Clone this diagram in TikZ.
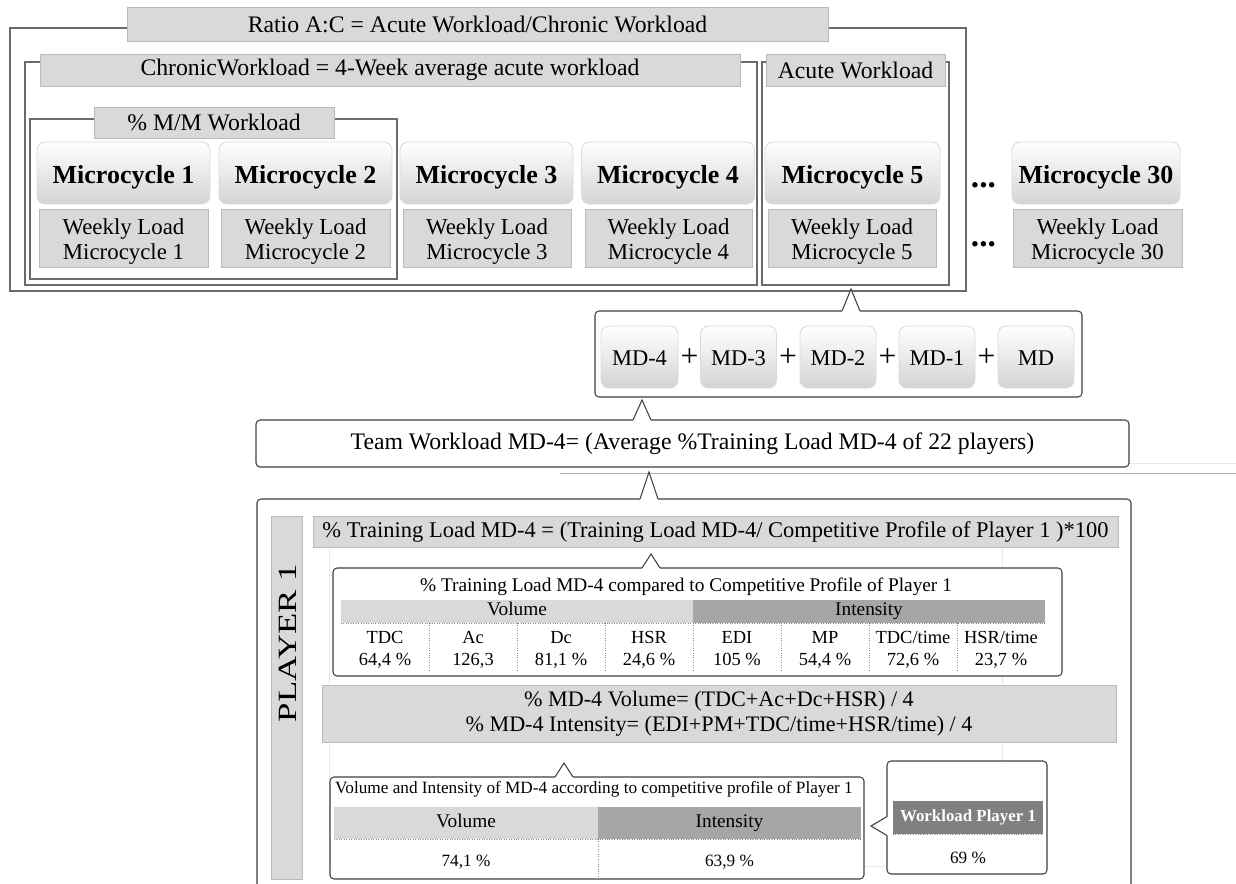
\documentclass[tikz,border=0pt]{standalone}
\usepackage{fontspec}
\setmainfont{Liberation Serif}
\usepackage{tikz}
\newcommand{\bigsize}{\fontsize{13.5}{14.2}\selectfont}
\newcommand{\formsize}{\fontsize{12.8}{14.2}\selectfont}
\newcommand{\mcsize}{\fontsize{14.8}{17}\selectfont\bfseries}
\newcommand{\wlsize}{\fontsize{13}{14.2}\selectfont}
\newcommand{\mdsize}{\fontsize{12.8}{15}\selectfont}
\newcommand{\titlesize}{\fontsize{11}{13}\selectfont}
\newcommand{\tabsize}{\fontsize{10.5}{12.4}\selectfont}
\newcommand{\smallsize}{\fontsize{9.8}{12}\selectfont}
\newcommand{\notchup}[3]{%
	\fill[white] (#1-9,#2+1) -- (#1-9,#2) -- (#1,#3) -- (#1+9,#2) -- (#1+9,#2+1) -- cycle;
	\draw[notch] (#1-9,#2) -- (#1,#3) -- (#1+9,#2);}
\newcommand{\notchleft}[3]{%
	\fill[white] (#1+1,#2-9.5) -- (#1,#2-9.5) -- (#3,#2) -- (#1,#2+9.5) -- (#1+1,#2+9.5) -- cycle;
	\draw[notch] (#1,#2-9.5) -- (#3,#2) -- (#1,#2+9.5);}
\tikzset{
	wh/.style 2 args={minimum width=#1*0.02cm,minimum height=#2*0.02cm,inner sep=0pt},
	frame/.style={draw=black!58,line width=0.7pt},
	graybox/.style={fill=black!15,draw=black!27,line width=0.5pt,font=\bigsize},
	loadbox/.style={graybox,align=center,font=\wlsize,text height=24.5pt,text depth=0pt},
	mcbutton/.style={rounded corners=0.16cm,top color=white,bottom color=black!17,draw=black!14,line width=0.5pt,
		font=\mcsize,text height=15.3pt,text depth=3.3pt},
	mdbutton/.style={mcbutton,font=\mdsize,text height=12.4pt,text depth=2.8pt},
	callout/.style={draw=black!75,line width=0.6pt,rounded corners=0.08cm,fill=white},
	notch/.style={draw=black!75,line width=0.6pt},
	lighthead/.style={fill=black!15,inner sep=0pt,text height=0.7em,text depth=0.2em},
	darkhead/.style={fill=black!35,inner sep=0pt,text height=0.7em,text depth=0.2em},
	cell/.style={align=center,font=\tabsize,execute at begin node=\strut,execute at end node=\strut},
	sep/.style={draw=black!45,densely dotted,line width=0.4pt},
	ghost/.style={draw=black!9,line width=0.5pt}
}
\begin{document}
\begin{tikzpicture}[x=0.02cm,y=-0.02cm]
	\useasboundingbox (0,0) rectangle (1236,883);
	\draw[frame] (10,28) rectangle (966,291);
	\draw[frame] (25,62) rectangle (757,285);
	\draw[frame] (762,62) rectangle (949,285);
	\draw[frame] (30,119) rectangle (397,279);
	\node[graybox,wh={701}{34}] (ratio) at (477.5,24) {Ratio A:C = Acute Workload/Chronic Workload};
	\node[graybox,wh={700}{32}] (chronic) at (390,70) {ChronicWorkload = 4-Week average acute workload};
	\node[graybox,wh={179}{32}] (acute) at (855.5,70) {Acute Workload};
	\node[graybox,wh={240}{31}] (mm) at (214,122.5) {\% M/M Workload};
	\node[mcbutton,wh={173}{62}] (mc1) at (123.5,173) {Microcycle 1};
	\node[mcbutton,wh={173}{62}] (mc2) at (305.5,173) {Microcycle 2};
	\node[mcbutton,wh={173}{62}] (mc3) at (486.5,173) {Microcycle 3};
	\node[mcbutton,wh={173}{62}] (mc4) at (668,173) {Microcycle 4};
	\node[mcbutton,wh={175}{62}] (mc5) at (852.5,173) {Microcycle 5};
	\node[mcbutton,wh={168}{62}] (mc30) at (1096,173) {Microcycle 30};
	\node[loadbox,wh={169}{58}] (wl1) at (123.5,238) {Weekly Load\\Microcycle 1};
	\node[loadbox,wh={169}{58}] (wl2) at (305.5,238) {Weekly Load\\Microcycle 2};
	\node[loadbox,wh={168}{58}] (wl3) at (487,238) {Weekly Load\\Microcycle 3};
	\node[loadbox,wh={167}{58}] (wl4) at (668.5,238) {Weekly Load\\Microcycle 4};
	\node[loadbox,wh={168}{58}] (wl5) at (852,238) {Weekly Load\\Microcycle 5};
	\node[loadbox,wh={169}{58}] (wl30) at (1097.5,238) {Weekly Load\\Microcycle 30};
	\node[font=\fontsize{19}{20}\selectfont\bfseries] (dots1) at (983.5,185) {...};
	\node[font=\fontsize{19}{20}\selectfont\bfseries] (dots2) at (983.5,244) {...};

	\node[callout,wh={487}{86}] (md) at (838.5,354) {};
	\notchup{851}{311}{289}
	\node[mdbutton,wh={77}{62}] (md4) at (639.5,357) {MD-4};
	\node[mdbutton,wh={76}{62}] (md3) at (738.5,357) {MD-3};
	\node[mdbutton,wh={76}{62}] (md2) at (838,357) {MD-2};
	\node[mdbutton,wh={76}{62}] (md1) at (937,357) {MD-1};
	\node[mdbutton,wh={76}{62}] (md0) at (1036,357) {MD};
	\node[font=\fontsize{18}{20}\selectfont] (p1) at (689.5,358) {+};
	\node[font=\fontsize{18}{20}\selectfont] (p2) at (788,358) {+};
	\node[font=\fontsize{18}{20}\selectfont] (p3) at (887.5,358) {+};
	\node[font=\fontsize{18}{20}\selectfont] (p4) at (986.5,358) {+};

	\draw[ghost] (1129,463) -- (1236,463);
	\draw[draw=black!30,line width=0.5pt] (560,473) -- (1236,473);
	\node[callout,wh={873}{47},font=\bigsize] (team) at (692.5,443.5) {Team Workload MD-4= (Average \%Training Load MD-4 of 22 players)};
	\notchup{642}{420}{400}

	\node[callout,wh={874}{420}] (player) at (694,709) {};
	\notchup{649}{499}{472}
	\draw[ghost] (329,548) -- (329,866) -- (1002,866) -- (1002,533);
	\node[graybox,wh={31}{363}] (pbar) at (286.5,697.5) {};
	\node[rotate=90,xscale=1.32,font=\fontsize{15}{16}\selectfont] (ptext) at (288,643) {PLAYER 1};
	\node[graybox,wh={805}{31},font=\formsize] (load) at (715.5,531.5) {\% Training Load MD-4 = (Training Load MD-4/ Competitive Profile of Player 1 )*100};

	\node[callout,wh={729}{108}] (tab) at (697.5,622) {};
	\notchup{651}{568}{554}
	\node[font=\titlesize] (tabtitle) at (686,587) {\% Training Load MD-4 compared to Competitive Profile of Player 1};
	\node[lighthead,wh={352}{23},font=\titlesize] (vol) at (517,611.5) {Volume};
	\node[darkhead,wh={352}{23},font=\titlesize] (int) at (869,611.5) {Intensity};
	\draw[sep] (341,623) -- (1045,623);
	\draw[sep] (429,623) -- (429,672) (517,623) -- (517,672) (605,623) -- (605,672) (693,623) -- (693,672)
		(781,623) -- (781,672) (869,623) -- (869,672) (957,623) -- (957,672);
	\node[cell] (tdc) at (385,652) {TDC\\64,4 \%};
	\node[cell] (ac) at (473,652) {Ac\\126,3};
	\node[cell] (dc) at (561,652) {Dc\\81,1 \%};
	\node[cell] (hsr) at (649,652) {HSR\\24,6 \%};
	\node[cell] (edi) at (737,652) {EDI\\105 \%};
	\node[cell] (mp) at (825,652) {MP\\54,4 \%};
	\node[cell] (tdct) at (913,652) {TDC/time\\72,6 \%};
	\node[cell] (hsrt) at (1001,652) {HSR/time\\23,7 \%};

	\node[graybox,wh={794}{57},align=center,font=\fontsize{12.6}{14.2}\selectfont] (avg) at (719,713.5) {\% MD-4 Volume= (TDC+Ac+Dc+HSR) / 4\\\% MD-4 Intensity= (EDI+PM+TDC/time+HSR/time) / 4};

	\node[callout,wh={534}{102}] (res) at (597,828) {};
	\notchup{564}{777}{763}
	\node[font=\smallsize] (restitle) at (594,789) {Volume and Intensity of MD-4 according to competitive profile of Player 1};
	\node[lighthead,wh={264}{32},font=\titlesize] (vol2) at (466,823) {Volume};
	\node[darkhead,wh={263}{32},font=\titlesize] (int2) at (729.5,823) {Intensity};
	\draw[sep] (334,839) -- (861,839) (598,839) -- (598,879);
	\node[font=\smallsize] (volval) at (466,862) {74,1 \%};
	\node[font=\smallsize] (intval) at (729.5,862) {63,9 \%};

	\node[callout,wh={160}{113}] (wp) at (967,817.5) {};
	\notchleft{887}{826}{871}
	\node[fill=black!50,wh={150}{33},text=white,font=\fontsize{9.6}{11}\selectfont\bfseries] (wphead) at (968,817.5) {Workload Player 1};
	\draw[sep] (893,834) -- (1043,834);
	\node[font=\smallsize] (wpval) at (968,858) {69 \%};
\end{tikzpicture}
\end{document}
